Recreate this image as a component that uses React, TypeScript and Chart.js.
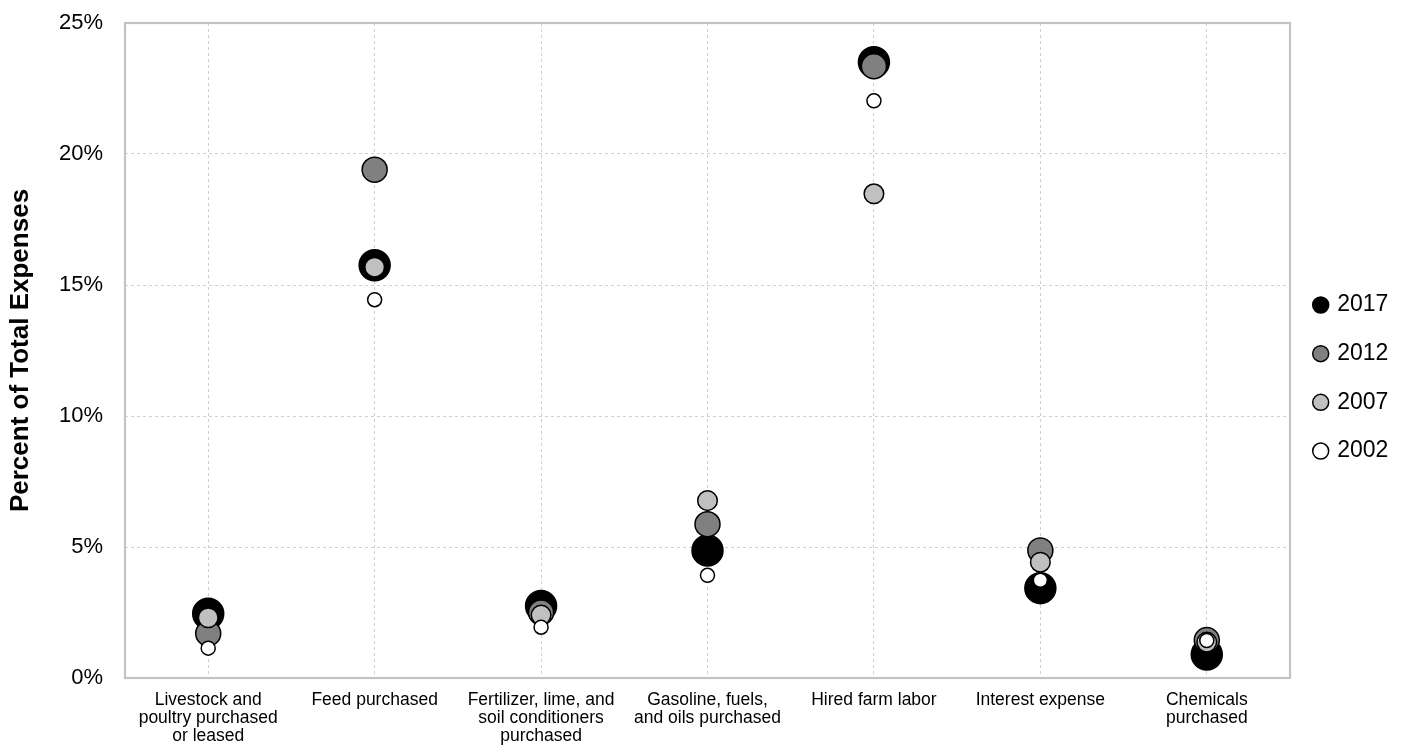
import React, { useEffect, useRef } from "react";
import { Chart, registerables } from "chart.js";

Chart.register(...registerables);

const categories: string[][] = [
  ["Livestock and", "poultry purchased", "or leased"],
  ["Feed purchased"],
  ["Fertilizer, lime, and", "soil conditioners", "purchased"],
  ["Gasoline, fuels,", "and oils purchased"],
  ["Hired farm labor"],
  ["Interest expense"],
  ["Chemicals", "purchased"],
];

const values2017 = [2.45, 15.75, 2.75, 4.87, 23.5, 3.43, 0.9];
const values2012 = [1.7, 19.4, 2.5, 5.87, 23.35, 4.87, 1.45];
const values2007 = [2.3, 15.68, 2.4, 6.77, 18.48, 4.42, 1.37];
const values2002 = [1.14, 14.44, 1.94, 3.92, 22.03, 3.73, 1.43];

const seriesNames = ["2017", "2012", "2007", "2002"];
const yTicks = [0, 5, 10, 15, 20, 25];

const FONT = "'Liberation Sans', Arial, Helvetica, sans-serif";

const frame = {
  id: "frame",
  beforeDatasetsDraw(chart: any) {
    const { ctx, chartArea } = chart;
    ctx.save();
    ctx.strokeStyle = "#c3c3c3";
    ctx.lineWidth = 2.2;
    ctx.strokeRect(
      chartArea.left,
      chartArea.top,
      chartArea.right - chartArea.left,
      chartArea.bottom - chartArea.top
    );
    ctx.restore();
  },
};

const legendWidth = {
  id: "legendWidth",
  beforeInit(chart: any) {
    const lg = chart.legend;
    if (!lg) return;
    const orig = lg.fit;
    lg.fit = function () {
      orig.call(this);
      this.width = 120;
    };
  },
};

export default function App() {
  const ref = useRef<HTMLCanvasElement | null>(null);

  useEffect(() => {
    if (!ref.current) return;
    Chart.defaults.color = "#000";
    Chart.defaults.font.family = FONT;

    const mk = (
      label: string,
      data: number[],
      fill: string,
      radius: number,
      order: number
    ) => ({
      label,
      data,
      showLine: false,
      backgroundColor: fill,
      borderColor: "#000",
      pointBackgroundColor: fill,
      pointBorderColor: "#000",
      pointBorderWidth: 1.5,
      pointRadius: radius,
      pointHoverRadius: radius,
      pointStyle: "circle",
      order,
    });

    const chart = new Chart(ref.current, {
      type: "line",
      data: {
        labels: categories,
        datasets: [
          mk(seriesNames[0], values2017, "#000000", 15.5, 4),
          mk(seriesNames[1], values2012, "#808080", 12.5, 3),
          mk(seriesNames[2], values2007, "#c0c0c0", 9.8, 2),
          mk(seriesNames[3], values2002, "#ffffff", 7, 1),
        ],
      },
      plugins: [frame, legendWidth],
      options: {
        animation: false,
        responsive: true,
        maintainAspectRatio: false,
        events: [],
        layout: { autoPadding: false, padding: 0 },
        plugins: {
          tooltip: { enabled: false },
          legend: {
            position: "right",
            labels: {
              usePointStyle: true,
              boxWidth: 10,
              boxHeight: 11.3,
              padding: 25.7,
              font: { size: 23, family: FONT },
              color: "#000",
              sort: (a: any, b: any) => a.datasetIndex - b.datasetIndex,
            },
          },
        },
        scales: {
          x: {
            type: "category",
            offset: true,
            border: { display: false, dash: [3, 3] },
            grid: {
              display: true,
              drawTicks: false,
              color: "#d0d0d0",
              lineWidth: 1,
            },
            ticks: {
              autoSkip: false,
              maxRotation: 0,
              minRotation: 0,
              padding: 13,
              font: { size: 17.5, family: FONT, lineHeight: 1.03 },
              color: "#000",
            },
            afterFit(scale: any) {
              scale.height = 78;
              scale.paddingLeft = 0;
              scale.paddingRight = 0;
            },
          },
          y: {
            min: 0,
            max: 25,
            border: { display: false, dash: [3, 3] },
            grid: {
              display: true,
              drawTicks: false,
              color: "#d0d0d0",
              lineWidth: 1,
            },
            ticks: {
              stepSize: 5,
              padding: 22,
              font: { size: 22, family: FONT },
              color: "#000",
              callback: (v: any) => (yTicks.includes(Number(v)) ? v + "%" : ""),
            },
            title: {
              display: true,
              text: "Percent of Total Expenses",
              font: { size: 26, weight: "bold", family: FONT },
              color: "#000",
              padding: { top: 5, bottom: 0 },
            },
            afterFit(scale: any) {
              scale.width = 125;
              scale.paddingTop = 23;
              scale.paddingBottom = 0;
            },
          },
        },
      } as any,
    });

    return () => chart.destroy();
  }, []);

  return (
    <div
      style={{
        position: "fixed",
        left: 0,
        top: 0,
        width: 1410,
        height: 756,
        background: "#fff",
      }}
    >
      <canvas ref={ref} />
    </div>
  );
}
